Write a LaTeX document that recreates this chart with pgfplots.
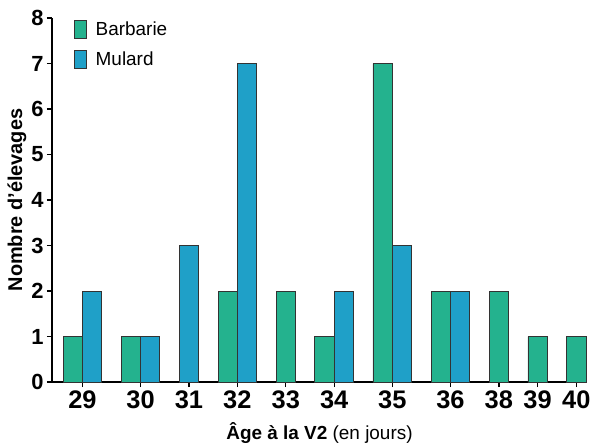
\documentclass[border=0pt]{standalone}
\usepackage{fontspec}
\setmainfont{Liberation Sans}
\usepackage{pgfplots}
\pgfplotsset{compat=1.18}
\definecolor{barb}{RGB}{36,178,142}
\definecolor{mul}{RGB}{31,160,200}
\begin{document}
\begin{tikzpicture}
\begin{axis}[
  name=ax,
  scale only axis, width=535bp, height=364bp,
  xmin=-0.57, xmax=27.05, ymin=0, ymax=8,
  axis x line*=bottom, axis y line*=left,
  axis line style={line width=1.3bp, -},
  ybar, bar width=1, bar shift=0pt,
  ytick={0,1,2,3,4,5,6,7,8},
  xtick={1,4,6.5,9,11.5,14,17,20,22.5,24.5,26.5},
  xticklabels={29,30,31,32,33,34,35,36,38,39,40},
  xticklabel style={font=\fontsize{25.5}{25.5}\selectfont\bfseries},
  yticklabel style={font=\fontsize{22}{22}\selectfont\bfseries},
  /pgf/number format/assume math mode=true,
  tick style={line width=1.3bp, black},
  major tick length=5bp, tick align=outside,
  xlabel={\textbf{Âge à la V2} (en jours)},
  ylabel={\textbf{Nombre d'élevages}},
  xlabel style={font=\fontsize{19}{19}\selectfont, yshift=-7bp},
  ylabel style={font=\fontsize{20}{20}\selectfont, yshift=-2bp},
  legend style={draw=none, fill=none, at={(rel axis cs:0.035,1.0)}, anchor=north west,
    font=\fontsize{19}{19}\selectfont, row sep=10bp, legend cell align=left},
  legend image code/.code={\draw[#1] (-6bp,-9bp) rectangle (6bp,9bp); \path (13bp,0bp);},
]
\addplot[fill=barb, draw=black!80, line width=0.8bp] coordinates {
 (0.5,1) (3.5,1) (8.5,2) (11.5,2) (13.5,1) (16.5,7) (19.5,2) (22.5,2) (24.5,1) (26.5,1)};
\addlegendentry{Barbarie}
\addplot[fill=mul, draw=black!80, line width=0.8bp] coordinates {
 (1.5,2) (4.5,1) (6.5,3) (9.5,7) (14.5,2) (17.5,3) (20.5,2)};
\addlegendentry{Mulard}
\end{axis}
\pgfresetboundingbox
\path[use as bounding box] ([shift={(-52bp,-63bp)}]ax.south west) rectangle ([shift={(540bp,382bp)}]ax.south west);
\end{tikzpicture}
\end{document}
